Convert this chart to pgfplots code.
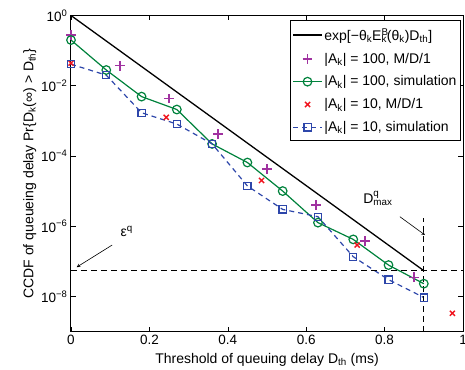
\documentclass[border=0pt]{standalone}
\usepackage{fontspec}
\setmainfont{Liberation Sans}
\usepackage{pgfplots}
\pgfplotsset{compat=1.18}
\definecolor{cgreen}{RGB}{0,130,60}
\definecolor{cblue}{RGB}{45,70,170}
\definecolor{cpurple}{RGB}{160,50,160}
\definecolor{cred}{RGB}{240,20,30}
\begin{document}
\begin{tikzpicture}
\begin{axis}[
  scale only axis, width=392pt, height=316pt,
  ymode=log, xmin=0, xmax=1, ymin=1e-9, ymax=1,
  xtick={0,0.2,0.4,0.6,0.8,1}, xticklabels={0,0.2,0.4,0.6,0.8,1},
  ytick={1,1e-2,1e-4,1e-6,1e-8},
  yticklabels={10\textsuperscript{0},10\textsuperscript{−2},10\textsuperscript{−4},10\textsuperscript{−6},10\textsuperscript{−8}},
  yminorticks=false,
  tick align=inside, xtick pos=both, ytick pos=both,
  major tick length=5pt,
  axis line style={line width=1pt},
  every tick/.style={black, line width=0.6pt},
  tick label style={font=\fontsize{13.5}{15}\selectfont},
  label style={font=\fontsize{14}{16}\selectfont},
  xlabel={Threshold of queuing delay D\textsubscript{th} (ms)},
  ylabel={CCDF of queueing delay Pr\{D\textsubscript{k}(∞) > D\textsubscript{th}\}},
  xlabel style={yshift=-2pt},
  ylabel style={yshift=-2pt},
  legend style={at={(0.995,0.985)}, anchor=north east, draw=black, line width=1pt,
    font=\fontsize{14}{16}\selectfont, inner sep=2pt,
    nodes={inner ysep=5.6pt},
    /tikz/every even column/.append style={column sep=2pt}},
  legend image code/.code={\draw[mark repeat=2,mark phase=2,#1] plot coordinates {(0cm,0cm) (0.5cm,0cm) (1cm,0cm)};},
  legend cell align=left,
]
\addplot[black, line width=1.3pt] coordinates {(0,1) (0.9,5.4e-8)};
\addlegendentry{exp[−θ\textsubscript{k}E\rlap{\textsuperscript{B}}\textsubscript{k}(θ\textsubscript{k})D\textsubscript{th}]}
\addplot[only marks, color=cpurple, mark=+, mark size=4.8pt, line width=1.4pt, mark options={draw=cpurple, line width=1.4pt}] coordinates {
(0,2.8e-1) (0.125,3.7e-2) (0.25,4.3e-3) (0.375,4.2e-4) (0.5,4.2e-5) (0.625,4.0e-6) (0.75,3.8e-7) (0.875,3.5e-8)};
\addlegendentry{|A\textsubscript{k}| = 100, M/D/1}
\addplot[cgreen, line width=1.2pt, mark=o, mark size=4.3pt, mark options={line width=1.2pt}] coordinates {
(0,2.0e-1) (0.09,2.8e-2) (0.18,4.9e-3) (0.27,2.1e-3) (0.36,2.2e-4) (0.45,6.5e-5) (0.54,1.0e-5) (0.63,1.26e-6) (0.72,4.2e-7) (0.81,7.8e-8) (0.90,2.3e-8)};
\addlegendentry{|A\textsubscript{k}| = 100, simulation}
\addplot[only marks, color=cred, mark=x, mark size=3.6pt, line width=1.4pt, mark options={draw=cred, line width=1.4pt}] coordinates {
(0,4.4e-2) (0.243,1.26e-3) (0.486,2.0e-5) (0.73,2.9e-7) (0.973,3.3e-9)};
\addlegendentry{|A\textsubscript{k}| = 10, M/D/1}
\addplot[cblue, line width=1.2pt, dash pattern=on 5pt off 4pt, mark=square, mark size=3.6pt, mark options={solid, line width=1.2pt}] coordinates {
(0,4.1e-2) (0.09,2.0e-2) (0.18,1.7e-3) (0.27,8.1e-4) (0.36,2.2e-4) (0.45,1.4e-5) (0.54,3.0e-6) (0.63,1.86e-6) (0.72,1.35e-7) (0.81,3.0e-8) (0.90,9.3e-9)};
\addlegendentry{|A\textsubscript{k}| = 10, simulation}
\addplot[black, line width=1.2pt, dash pattern=on 6pt off 4pt, forget plot] coordinates {(0,5.4e-8) (1,5.4e-8)};
\addplot[black, line width=1.2pt, dash pattern=on 6pt off 4pt, forget plot] coordinates {(0.9,1e-9) (0.9,1.7e-6)};
\draw[-stealth, line width=0.6pt] (axis cs:0.105,2.9e-7) -- (axis cs:0.0145,6.8e-8);
\node[font=\fontsize{14}{16}\selectfont] at (axis cs:0.142,7.0e-7) {ε\textsuperscript{q}};
\draw[-stealth, line width=0.6pt] (axis cs:0.839,1.86e-6) -- (axis cs:0.903,5.6e-7);
\node[font=\fontsize{14}{16}\selectfont] at (axis cs:0.783,6.2e-6) {D\rlap{\raisebox{2pt}{\textsuperscript{q}}}\textsubscript{max}};
\end{axis}
\pgfresetboundingbox
\useasboundingbox (current axis.south west) ++(-71pt,-37.5pt) rectangle ([xshift=2pt,yshift=15.5pt]current axis.north east);
\end{tikzpicture}
\end{document}
